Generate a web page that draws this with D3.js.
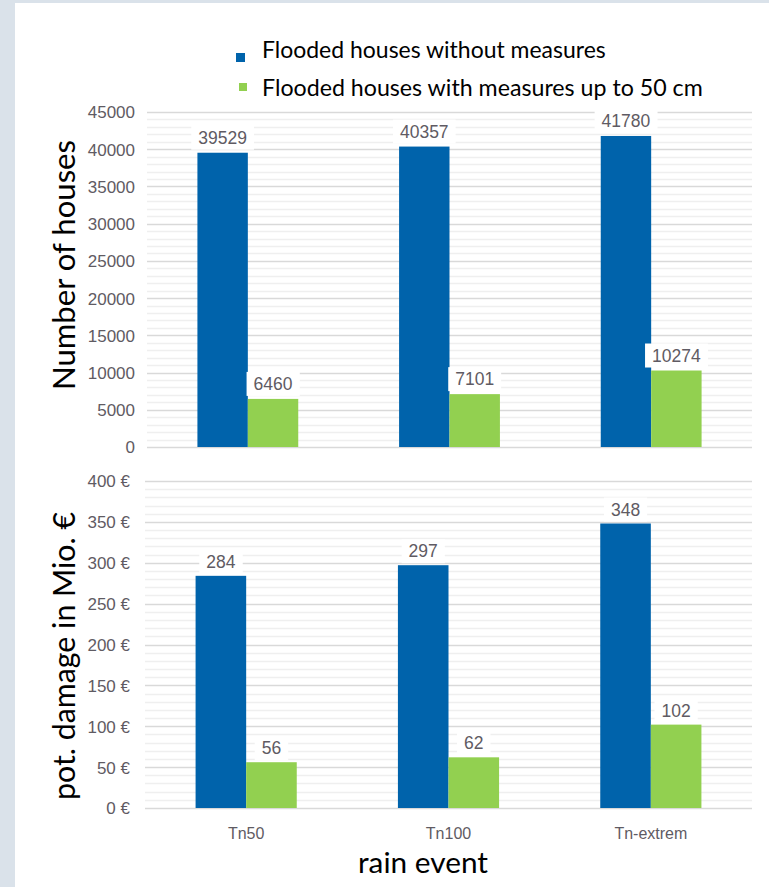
<!DOCTYPE html>
<html>
<head>
<meta charset="utf-8">
<script src="https://cdn.jsdelivr.net/npm/d3@7"></script>
<style>
  html, body { margin: 0; padding: 0; background: #dae2ea; }
  svg { display: block; }
</style>
</head>
<body>
<svg id="chart" width="769" height="887"></svg>
<script>
const categories = ["Tn50", "Tn100", "Tn-extrem"];
const seriesNames = ["Flooded houses without measures", "Flooded houses with measures up to 50  cm"];
const housesWithout = [39529, 40357, 41780];
const housesWith = [6460, 7101, 10274];
const damageWithout = [284, 297, 348];
const damageWith = [56, 62, 102];
const houseTicks = [0, 5000, 10000, 15000, 20000, 25000, 30000, 35000, 40000, 45000];
const damageTicks = [0, 50, 100, 150, 200, 250, 300, 350, 400];

const colors = ["#0063ab", "#92d050"];
const textGrey = "#5f5b63";
const svg = d3.select("#chart");

svg.append("rect").attr("x", 0).attr("y", 0).attr("width", 769).attr("height", 887).attr("fill", "#dae2ea");
svg.append("rect").attr("x", 15).attr("y", 3).attr("width", 754).attr("height", 884).attr("fill", "#ffffff");

function drawPanel(cfg) {
  const g = svg.append("g");
  const x0 = d3.scaleBand().domain(categories).range([cfg.left, 752]).paddingInner(0.5).paddingOuter(0.25);
  const x1 = d3.scaleBand().domain([0, 1]).range([0, x0.bandwidth()]);
  const y = d3.scaleLinear().domain(cfg.domain).range([cfg.bottom, cfg.top]);

  const minor = d3.range(cfg.domain[0], cfg.domain[1] + 1e-9, cfg.minorStep).filter(v => !cfg.ticks.includes(v));
  g.append("g").selectAll("line").data(minor).join("line")
    .attr("x1", cfg.left).attr("x2", 752)
    .attr("y1", d => Math.round(y(d)) + 0.5).attr("y2", d => Math.round(y(d)) + 0.5)
    .attr("stroke", "#efefef").attr("stroke-width", 1.5);
  g.append("g").selectAll("line").data(cfg.ticks).join("line")
    .attr("x1", cfg.left).attr("x2", 752)
    .attr("y1", d => Math.round(y(d)) + 0.5).attr("y2", d => Math.round(y(d)) + 0.5)
    .attr("stroke", "#d9d9d9").attr("stroke-width", 1.5);

  const axis = d3.axisLeft(y).tickValues(cfg.ticks).tickSize(0).tickPadding(0).tickFormat(cfg.fmt);
  const ag = g.append("g").attr("transform", `translate(${cfg.labelX},0)`).call(axis);
  ag.select(".domain").remove();
  ag.selectAll("text").attr("fill", textGrey).style("font-family", "'Liberation Sans', Arial, sans-serif")
    .style("font-size", "17px").attr("dy", "0.35em");

  const rows = categories.map((c, i) => ({ c, vals: [cfg.a[i], cfg.b[i]] }));
  const grp = g.append("g").selectAll("g").data(rows).join("g")
    .attr("transform", d => `translate(${x0(d.c)},0)`);
  grp.selectAll("rect").data(d => d.vals.map((v, k) => ({ v, k }))).join("rect")
    .attr("x", d => x1(d.k)).attr("width", x1.bandwidth())
    .attr("y", d => y(d.v)).attr("height", d => y(0) - y(d.v))
    .attr("fill", d => colors[d.k]);

  grp.each(function(d) {
    const gg = d3.select(this);
    d.vals.forEach((v, k) => {
      const cx = x1(k) + x1.bandwidth() / 2;
      const t = gg.append("text").attr("x", cx).attr("y", y(v) - cfg.labelGap)
        .attr("text-anchor", "middle").attr("fill", textGrey)
        .style("font-family", "'Liberation Sans', Arial, sans-serif").style("font-size", "17.5px")
        .text(v);
      const bb = t.node().getBBox();
      gg.insert("rect", "text").attr("x", bb.x - 7).attr("y", bb.y - 2).attr("width", bb.width + 14).attr("height", bb.height + 4)
        .attr("fill", "#ffffff");
    });
  });
  return { x0, y };
}

const topPanel = drawPanel({ left: 147, top: 112, bottom: 447, domain: [0, 45000], ticks: houseTicks, minorStep: 1000,
  fmt: d3.format("d"), labelX: 135, a: housesWithout, b: housesWith, labelGap: 9 });
const botPanel = drawPanel({ left: 145, top: 481, bottom: 808, domain: [0, 400], ticks: damageTicks, minorStep: 10,
  fmt: d => d + " €", labelX: 130, a: damageWithout, b: damageWith, labelGap: 8 });

svg.append("g").selectAll("text").data(categories).join("text")
  .attr("x", d => botPanel.x0(d) + botPanel.x0.bandwidth() / 2).attr("y", 839)
  .attr("text-anchor", "middle").attr("fill", textGrey)
  .style("font-family", "'Liberation Sans', Arial, sans-serif").style("font-size", "16px")
  .text(d => d);

// fit a text's font size so its natural width matches a target
function fitText(sel, target, base) {
  sel.style("font-size", base + "px");
  const w = sel.node().getComputedTextLength();
  sel.style("font-size", (base * target / w).toFixed(2) + "px");
}

// legend
const legendWidths = [344, 441];
const leg = svg.append("g").selectAll("g").data(seriesNames).join("g")
  .attr("transform", (d, i) => `translate(0,${i * 38})`);
leg.append("rect").attr("x", (d, i) => i === 0 ? 236 : 239).attr("y", (d, i) => i === 0 ? 53 : 45)
  .attr("width", (d, i) => i === 0 ? 9 : 8).attr("height", (d, i) => i === 0 ? 9 : 8)
  .attr("fill", (d, i) => colors[i]);
leg.append("text").attr("x", 262).attr("y", 58).attr("fill", "#000")
  .style("font-family", "Lato, 'Open Sans', sans-serif")
  .text(d => d)
  .each(function(d, i) { fitText(d3.select(this), legendWidths[i], 20); });

// axis titles
const t1 = svg.append("text").attr("transform", "translate(75,265) rotate(-90)").attr("text-anchor", "middle")
  .style("font-family", "Lato, 'Open Sans', sans-serif").attr("fill", "#000")
  .text("Number of houses");
fitText(t1, 250, 24);
const t2 = svg.append("text").attr("transform", "translate(75,656) rotate(-90)").attr("text-anchor", "middle")
  .style("font-family", "Lato, 'Open Sans', sans-serif").attr("fill", "#000")
  .text("pot. damage in Mio. €");
fitText(t2, 288, 24);
const t3 = svg.append("text").attr("x", 423).attr("y", 873).attr("text-anchor", "middle")
  .style("font-family", "Lato, 'Open Sans', sans-serif").attr("fill", "#000")
  .text("rain event");
fitText(t3, 130, 24);
</script>
</body>
</html>
